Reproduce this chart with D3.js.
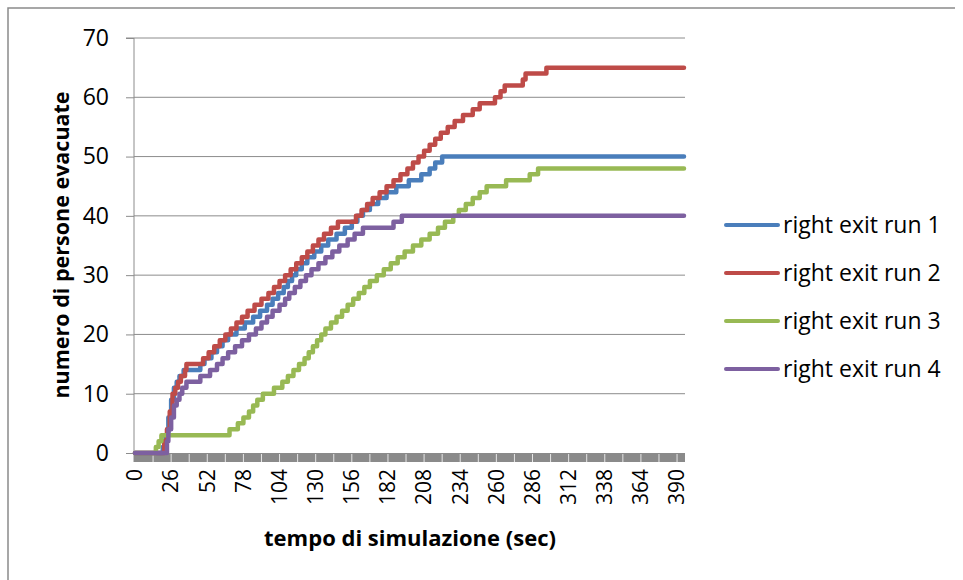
<!DOCTYPE html>
<html>
<head>
<meta charset="utf-8">
<script src="https://cdn.jsdelivr.net/npm/d3@7"></script>
<style>
  body { margin: 0; background: #fff; }
  svg text { font-family: "Open Sans", "Liberation Sans", sans-serif; fill: #000; }
</style>
</head>
<body>
<div id="chart"></div>
<script>
// istanti (sec) in cui cambia il numero di evacuati, e il valore da quell'istante
const run1_t = [0, 20, 22, 24, 26, 28, 30, 32, 35, 47, 50, 55, 59, 63, 67, 73, 79, 85, 90, 95, 99, 103, 107, 110, 113, 116, 120, 124, 129, 134, 139, 145, 151, 156, 160, 164, 169, 175, 181, 188, 197, 206, 212, 216, 221, 395];
const run1_v = [0, 1, 3, 6, 9, 11, 12, 13, 14, 15, 16, 17, 18, 19, 20, 21, 22, 23, 24, 25, 26, 27, 28, 29, 30, 31, 32, 33, 34, 35, 36, 37, 38, 39, 40, 41, 42, 43, 44, 45, 46, 47, 48, 49, 50, 50];

const run2_t = [0, 21, 23, 25, 27, 29, 31, 33, 36, 37, 49, 53, 57, 61, 65, 69, 73, 77, 81, 86, 91, 96, 100, 104, 108, 112, 116, 120, 124, 128, 132, 136, 141, 146, 159, 163, 167, 171, 176, 181, 186, 191, 196, 200, 204, 208, 212, 216, 220, 225, 230, 236, 243, 248, 259, 263, 266, 279, 281, 296, 395];
const run2_v = [0, 2, 4, 7, 10, 11, 12, 13, 14, 15, 16, 17, 18, 19, 20, 21, 22, 23, 24, 25, 26, 27, 28, 29, 30, 31, 32, 33, 34, 35, 36, 37, 38, 39, 40, 41, 42, 43, 44, 45, 46, 47, 48, 49, 50, 51, 52, 53, 54, 55, 56, 57, 58, 59, 60, 61, 62, 63, 64, 65, 65];

const run3_t = [0, 15, 17, 19, 68, 74, 78, 82, 85, 88, 92, 100, 106, 110, 114, 118, 122, 125, 128, 131, 134, 137, 141, 145, 149, 153, 157, 161, 165, 169, 174, 179, 184, 189, 194, 200, 206, 212, 218, 223, 229, 233, 238, 243, 248, 253, 267, 284, 290, 395];
const run3_v = [0, 1, 2, 3, 4, 5, 6, 7, 8, 9, 10, 11, 12, 13, 14, 15, 16, 17, 18, 19, 20, 21, 22, 23, 24, 25, 26, 27, 28, 29, 30, 31, 32, 33, 34, 35, 36, 37, 38, 39, 40, 41, 42, 43, 44, 45, 46, 47, 48, 48];

const run4_t = [0, 23, 24, 26, 28, 30, 32, 34, 37, 47, 54, 59, 63, 67, 72, 77, 82, 87, 91, 95, 99, 104, 108, 111, 115, 119, 123, 127, 132, 137, 142, 147, 153, 158, 164, 186, 192, 395];
const run4_v = [0, 2, 4, 6, 8, 9, 10, 11, 12, 13, 14, 15, 16, 17, 18, 19, 20, 21, 22, 23, 24, 25, 26, 27, 28, 29, 30, 31, 32, 33, 34, 35, 36, 37, 38, 39, 40, 40];

const seriesNames = ["right exit run 1", "right exit run 2", "right exit run 3", "right exit run 4"];
const seriesColors = ["#4a7ebb", "#be4b48", "#98b954", "#7d60a0"];
const xTicks = [0, 26, 52, 78, 104, 130, 156, 182, 208, 234, 260, 286, 312, 338, 364, 390];
const yTicks = [0, 10, 20, 30, 40, 50, 60, 70];
const lastCategory = 395;

const W = 963, H = 580;

const svg = d3.select("#chart")
  .append("svg")
  .attr("width", W)
  .attr("height", H);

// cornice del grafico
svg.append("path")
  .attr("d", "M8," + H + "V8H955")
  .attr("fill", "none")
  .attr("stroke", "#8a8a8a")
  .attr("stroke-width", 1.5);

const xScale = d3.scaleLinear()
  .domain([0, lastCategory])
  .range([135, 684]);
const yScale = d3.scaleLinear()
  .domain([0, 70])
  .range([453, 38]);

// griglia orizzontale
svg.append("g")
  .selectAll("line")
  .data(yTicks.slice(1))
  .join("line")
  .attr("x1", xScale(0) - 1)
  .attr("x2", xScale(lastCategory) + 1)
  .attr("y1", d => yScale(d))
  .attr("y2", d => yScale(d))
  .attr("stroke", "#8c8c8c")
  .attr("stroke-width", 1);

// asse y
const yAxis = d3.axisLeft(yScale)
  .tickValues(yTicks)
  .tickSize(8)
  .tickPadding(17);
const gy = svg.append("g")
  .attr("transform", "translate(" + (xScale(0) - 1) + ",0)")
  .call(yAxis);
gy.select(".domain").attr("stroke", "#8c8c8c").attr("d", "M-8," + yScale(70) + "H0V" + (yScale(0) + 9));
gy.selectAll(".tick line").attr("stroke", "#8c8c8c");
gy.selectAll(".tick text").attr("font-size", 23);

// asse x: una categoria al secondo, tacche fitte -> banda grigia
svg.append("rect")
  .attr("x", xScale(0) - 1)
  .attr("y", yScale(0))
  .attr("width", xScale(lastCategory) - xScale(0) + 2)
  .attr("height", 9)
  .attr("fill", "#8a8a8a");
svg.append("g")
  .selectAll("line")
  .data(d3.range(13, lastCategory, 13))
  .join("line")
  .attr("x1", d => xScale(d))
  .attr("x2", d => xScale(d))
  .attr("y1", yScale(0) + 1)
  .attr("y2", yScale(0) + 9)
  .attr("stroke", "#e6e6e6")
  .attr("stroke-width", 1);

svg.append("g")
  .selectAll("text")
  .data(xTicks)
  .join("text")
  .attr("transform", d => "translate(" + xScale(d) + "," + (yScale(0) + 16) + ") rotate(-90)")
  .attr("text-anchor", "end")
  .attr("dy", "0.35em")
  .attr("font-size", 21)
  .text(d => d);

// serie
const runs = [[run1_t, run1_v], [run2_t, run2_v], [run3_t, run3_v], [run4_t, run4_v]];
const line = d3.line()
  .curve(d3.curveStepAfter)
  .x(d => xScale(d[0]))
  .y(d => yScale(d[1]));

// disegno in ordine 1..4 come Excel
runs.forEach((r, i) => {
  svg.append("path")
    .datum(d3.zip(r[0], r[1]))
    .attr("fill", "none")
    .attr("stroke", seriesColors[i])
    .attr("stroke-width", 4.5)
    .attr("stroke-linejoin", "round")
    .attr("stroke-linecap", "round")
    .attr("d", line);
});

// titoli assi
svg.append("text")
  .attr("x", 410)
  .attr("y", 546)
  .attr("text-anchor", "middle")
  .attr("font-size", 22)
  .attr("font-weight", "bold")
  .text("tempo di simulazione (sec)");
svg.append("text")
  .attr("transform", "translate(69,245) rotate(-90)")
  .attr("text-anchor", "middle")
  .attr("font-size", 21.5)
  .attr("font-weight", "bold")
  .text("numero di persone evacuate");

// legenda
const legendY = d3.scalePoint()
  .domain(seriesNames)
  .range([225, 369]);
const lg = svg.append("g")
  .selectAll("g")
  .data(seriesNames)
  .join("g")
  .attr("transform", d => "translate(0," + legendY(d) + ")");
lg.append("line")
  .attr("x1", 726)
  .attr("x2", 778)
  .attr("stroke", (d, i) => seriesColors[i])
  .attr("stroke-width", 4)
  .attr("stroke-linecap", "round");
lg.append("text")
  .attr("x", 783)
  .attr("dy", "0.35em")
  .attr("font-size", 23)
  .text(d => d);
</script>
</body>
</html>
